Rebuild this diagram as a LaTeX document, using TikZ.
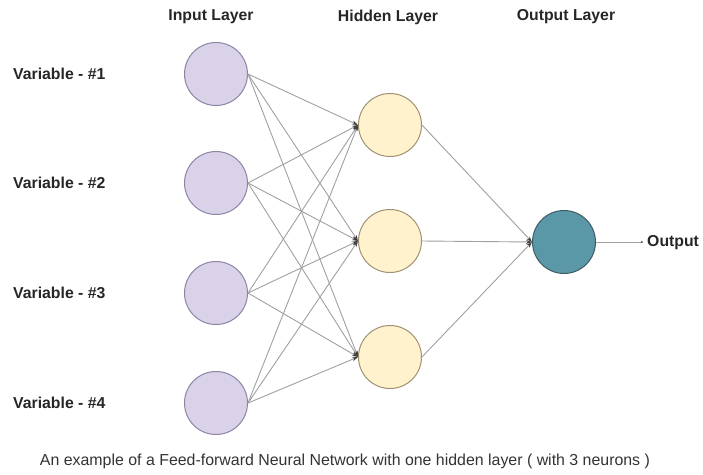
\documentclass[tikz,border=0pt]{standalone}
\usepackage{fontspec}
\setmainfont{Liberation Sans}
\usetikzlibrary{arrows.meta}
\definecolor{inpfill}{HTML}{D9D2E9}
\definecolor{inpdraw}{HTML}{8E84A6}
\definecolor{hidfill}{HTML}{FFF2CC}
\definecolor{hiddraw}{HTML}{9E9272}
\definecolor{outfill}{HTML}{5A98A8}
\definecolor{outdraw}{HTML}{3E5E66}
\definecolor{edgecol}{HTML}{A0A0A0}
\definecolor{tipcol}{HTML}{404040}
\begin{document}
\begin{tikzpicture}[x=1pt,y=-1pt,
  neuron/.style={circle,minimum size=63pt,inner sep=0pt,line width=1pt},
  inp/.style={neuron,fill=inpfill,draw=inpdraw},
  hid/.style={neuron,fill=hidfill,draw=hiddraw},
  outn/.style={neuron,fill=outfill,draw=outdraw},
  lbl/.style={font=\fontsize{15.8}{18}\selectfont\bfseries,inner sep=0pt,text=black!85},
  conn/.style={draw=edgecol,line width=0.9pt,-{Stealth[length=6pt,width=4pt,color=tipcol]}},
  plain/.style={draw=edgecol,line width=0.9pt}
]
\useasboundingbox (0,0) rectangle (703,474);
% layer titles
\node[lbl] (tin) at (211,17) {Input Layer};
\node[lbl] (thid) at (388,17) {Hidden Layer};
\node[lbl] (tout) at (566,17) {Output Layer};
% input neurons
\foreach \i/\y in {1/74,2/183,3/293,4/403}{
  \node[inp] (I\i) at (216,\y) {};
  \node[lbl,anchor=west] (V\i) at (13,\y) {Variable - \#\i};
}
% hidden neurons
\foreach \j/\y in {1/125,2/241,3/357}{
  \node[hid] (H\j) at (390,\y) {};
}
% output neuron
\node[outn] (O) at (564,242) {};
% edges input -> hidden
\foreach \i in {1,...,4}{
  \foreach \j in {1,2,3}{
    \draw[conn] (I\i.east) -- (H\j.west);
  }
}
% edges hidden -> output
\foreach \j in {1,2,3}{
  \draw[conn] (H\j.east) -- (O.west);
}
\coordinate (oend) at (643,242);
\draw[plain,-{Stealth[length=2pt,width=2.5pt,color=tipcol]}] (O.east) -- (oend);
\node[lbl,anchor=west] (olbl) at (647,243) {Output};
% caption
\node[inner sep=0pt,text=black!80] (cap) at (345,461) {\resizebox{610pt}{!}{\fontsize{15}{18}\selectfont An example of a Feed-forward Neural Network with one hidden layer ( with 3 neurons )}};
\end{tikzpicture}
\end{document}
